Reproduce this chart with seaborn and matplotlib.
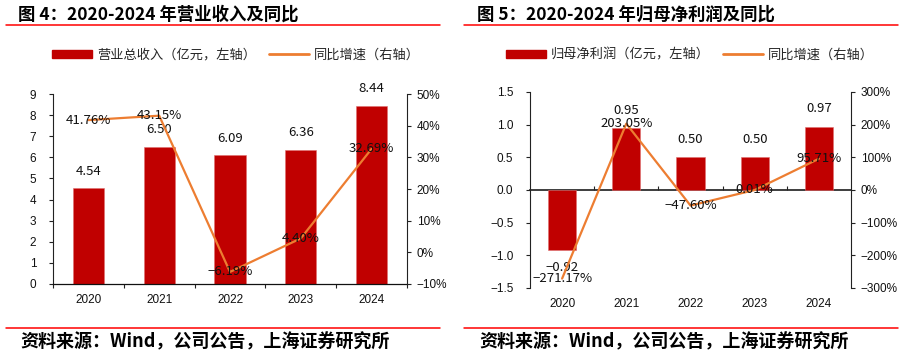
import numpy as np
import pandas as pd
import matplotlib
matplotlib.use("Agg")
import matplotlib.pyplot as plt
import seaborn as sns
from matplotlib.patches import Patch
from matplotlib.lines import Line2D
from matplotlib.transforms import Bbox, TransformedBbox

sns.set_theme(style="white")
plt.rcParams['font.family'] = ['Liberation Sans', 'Noto Sans CJK SC', 'DejaVu Sans']
plt.rcParams['axes.unicode_minus'] = True

years = ["2020", "2021", "2022", "2023", "2024"]
revenue = [4.54, 6.50, 6.09, 6.36, 8.44]
revenue_yoy = [41.76, 43.15, -6.19, 4.40, 32.69]
profit = [-0.92, 0.95, 0.50, 0.50, 0.97]
profit_yoy = [-271.17, 203.05, -47.60, 0.01, 95.71]

title_left = "图 4：2020-2024 年营业收入及同比"
title_right = "图 5：2020-2024 年归母净利润及同比"
legend_left = ["营业总收入（亿元，左轴）", "同比增速（右轴）"]
legend_right = ["归母净利润（亿元，左轴）", "同比增速（右轴）"]
source = "资料来源：Wind，公司公告，上海证券研究所"

BAR = "#C00000"
LINE = "#ED7D31"
CJK = ['Noto Sans CJK SC', 'DejaVu Sans']

W, H = 904, 355
fig = plt.figure(figsize=(W / 100, H / 100), dpi=100)
clip_axes = []


def fx(px):
    return px / W


def fy(py):
    return 1 - py / H


def panel(x0, x1, y0, y1, vals, yoy, ylim, y2lim, yticks, y2ticks, yfmt,
          title, legs, tx, lx0, lx1, legy, zero_axis, clipx=None):
    ax = fig.add_axes([fx(x0), fy(y1), fx(x1 - x0), (y1 - y0) / H])
    df = pd.DataFrame({"year": years, "val": vals, "yoy": yoy})
    sns.barplot(data=df, x="year", y="val", order=years, color=BAR,
                saturation=1, width=0.44, ax=ax, edgecolor="#E07070", linewidth=0.4)
    ax.set_xlim(-0.5, 4.5)
    ax.set_ylim(*ylim)
    ax.set_yticks(yticks)
    ax.set_yticklabels([yfmt(v) for v in yticks])
    ax.set_xlabel("")
    ax.set_ylabel("")
    for s in ["top", "right"]:
        ax.spines[s].set_visible(False)
    ax.spines["left"].set_color("#222222")
    ax.spines["left"].set_linewidth(0.8)
    ax.tick_params(axis="y", which="major", direction="out", length=3, width=0.8,
                   color="#222222", left=True, pad=9, labelsize=8.5, labelcolor="#111111")
    ax.tick_params(axis="x", which="major", length=0, labelsize=8.5, labelcolor="#111111")
    span = ylim[1] - ylim[0]
    if zero_axis:
        ax.spines["bottom"].set_visible(False)
        ax.tick_params(axis="x", pad=7)
        sec = ax.secondary_xaxis((0 - ylim[0]) / span)
        sec.set_xticks([0.5, 1.5, 2.5, 3.5])
        sec.set_xticklabels([])
        sec.tick_params(direction="out", length=3, width=0.8, color="#222222")
        sec.spines["bottom"].set_color("#111111")
        sec.spines["bottom"].set_linewidth(0.9)
    else:
        ax.spines["bottom"].set_color("#111111")
        ax.spines["bottom"].set_linewidth(0.9)
        ax.set_xticks([-0.5, 0.5, 1.5, 2.5, 3.5, 4.5], minor=True)
        ax.tick_params(axis="x", which="minor", direction="out", length=3, width=0.8,
                       color="#222222", bottom=True)
        ax.tick_params(axis="x", pad=7)

    off = span * 0.09
    for i, v in enumerate(vals):
        yv = v + off if v >= 0 else v - off
        ax.text(i, yv, f"{v:.2f}".replace("-", "\u2212"), ha="center", va="center",
                fontsize=9.5, family=CJK, color="#111111")

    ax2 = ax.twinx()
    sns.pointplot(data=df, x="year", y="yoy", order=years, color=LINE,
                  markers="", linestyles="-", linewidth=1.6, ax=ax2, errorbar=None)
    ax2.set_xlim(-0.5, 4.5)
    ax2.set_ylim(*y2lim)
    ax2.set_yticks(y2ticks)
    ax2.set_yticklabels([f"{t:.0f}%".replace("-", "\u2212") for t in y2ticks])
    ax2.set_ylabel("")
    ax2.set_xlabel("")
    for s in ["top", "left", "bottom"]:
        ax2.spines[s].set_visible(False)
    ax2.spines["right"].set_color("#222222")
    ax2.spines["right"].set_linewidth(0.8)
    ax2.tick_params(axis="y", direction="out", length=3, width=0.8, color="#222222",
                    right=True, pad=4, labelsize=8.5, labelcolor="#111111")
    for i, v in enumerate(yoy):
        ax2.text(i, v, f"{v:.2f}%".replace("-", "\u2212"), ha="center", va="center",
                 fontsize=9.5, family=CJK, color="#111111", zorder=5)
    if clipx is not None:
        clip_axes.append((ax2, clipx))

    # title and rules
    fig.text(fx(tx), fy(15), title, fontsize=12.5, fontweight="bold", family=CJK,
             ha="left", va="center", color="#000000")
    fig.add_artist(Line2D([fx(lx0), fx(lx1)], [fy(25), fy(25)], color="#FF0000", lw=1.1))
    fig.add_artist(Line2D([fx(lx0), fx(lx1)], [fy(327.5), fy(327.5)], color="#FF0000", lw=1.1))
    fig.text(fx(tx + 2), fy(342), source, fontsize=13, fontweight="bold", style="italic",
             family=['Noto Sans CJK SC', 'DejaVu Sans'], ha="left", va="center", color="#000000")

    handles = [Patch(facecolor=BAR, edgecolor=BAR, label=legs[0]),
               Line2D([0], [0], color=LINE, lw=2, label=legs[1])]
    fig.legend(handles=handles, loc="center", bbox_to_anchor=(fx(legy[0]), fy(legy[1])),
               ncol=2, frameon=False, prop={"family": CJK, "size": 9.5},
               handlelength=3.0, handleheight=0.6, columnspacing=1.0, handletextpad=0.4)
    return ax, ax2


panel(53, 407, 94, 284, revenue, revenue_yoy, (0, 9), (-10, 50),
      list(range(0, 10)), list(range(-10, 51, 10)), lambda v: f"{v:d}",
      title_left, legend_left, 18, 6, 440, (236, 55), False, clipx=448)

panel(530, 851, 92, 288, profit, profit_yoy, (-1.5, 1.5), (-300, 300),
      [-1.5, -1.0, -0.5, 0.0, 0.5, 1.0, 1.5], list(range(-300, 301, 100)),
      lambda v: f"{v:.1f}".replace("-", "\u2212"),
      title_right, legend_right, 477, 464, 898, (690, 55), True)

fig.canvas.draw()
for a2, cx in clip_axes:
    cb = TransformedBbox(Bbox([[0, 0], [fx(cx), 1]]), fig.transFigure)
    for t in a2.yaxis.get_major_ticks():
        for lab in (t.label1, t.label2):
            lab.set_clip_box(cb)
            lab.set_clip_on(True)

fig.savefig("out.png", dpi=100)
